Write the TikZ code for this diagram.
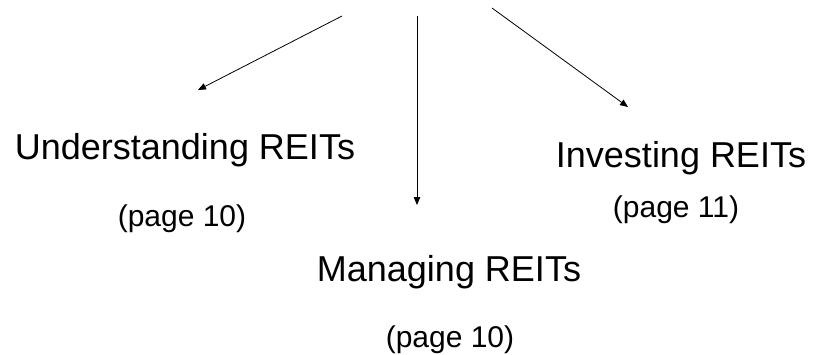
\documentclass[tikz,border=0pt]{standalone}
\usepackage{fontspec}
\setmainfont{Liberation Sans}
\usetikzlibrary{arrows.meta,positioning,calc}
\definecolor{ink}{RGB}{0,0,0}
\tikzset{
  every picture/.style={color=ink, line width=0.8pt, x=1pt, y=-1pt},
  title/.style={inner sep=0pt, anchor=base, font=\fontsize{36}{42}\selectfont},
  pageref/.style={inner sep=0pt, anchor=base, font=\fontsize{30}{36}\selectfont},
  flow/.style={-{Triangle[length=8pt,width=6.5pt]}, line width=0.8pt},
}

\begin{document}
\begin{tikzpicture}
  \useasboundingbox (0,0) rectangle (816,354);
  % three branches fanning out from the top
  \node[title] (und) at (185,159) {Understanding REITs};
  \node[pageref] (undp) at (182,226) {(page 10)};
  \node[title] (man) at (449,281) {Managing REITs};
  \node[pageref] (manp) at (450,347) {(page 10)};
  \node[title] (inv) at (681,167) {Investing REITs};
  \node[pageref] (invp) at (676,217) {(page 11)};
  \coordinate (fromU) at (342,16);
  \coordinate (fromM) at (417,16);
  \coordinate (fromI) at (492,8);
  \coordinate (toU) at (198,90);
  \coordinate (toM) at (417,205);
  \coordinate (toI) at (628,107);
  \draw[flow] (fromU) -- (toU);
  \draw[flow] (fromM) -- (toM);
  \draw[flow] (fromI) -- (toI);
\end{tikzpicture}
\end{document}
